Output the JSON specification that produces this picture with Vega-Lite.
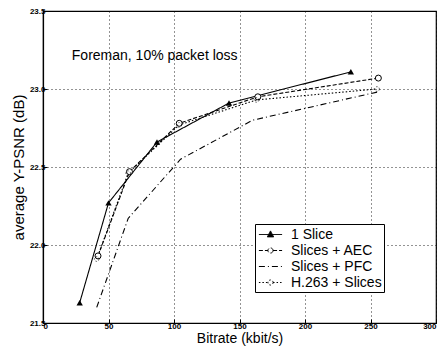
{
  "$schema": "https://vega.github.io/schema/vega-lite/v6.json",
  "width": 393,
  "height": 312,
  "autosize": {"type": "none"},
  "padding": {"left": 43, "top": 11, "right": 6, "bottom": 26},
  "background": "white",
  "config": {
    "view": {"stroke": "black", "strokeWidth": 1.2},
    "font": "Liberation Sans",
    "axis": {
      "gridColor": "black", "gridDash": [1, 3], "gridOpacity": 0.85, "gridWidth": 1,
      "domainColor": "black", "domainWidth": 1.2, "tickColor": "black",
      "tickSize": -4, "labelFontSize": 8, "labelFontWeight": "bold", "labelColor": "black",
      "titleFontSize": 14, "titleFontWeight": "normal", "titleColor": "black", "labelPadding": 2
    }
  },
  "data": {"values": [
    {"s": "1 Slice", "x": 28, "y": 21.63},
    {"s": "1 Slice", "x": 50, "y": 22.27},
    {"s": "1 Slice", "x": 87, "y": 22.66},
    {"s": "1 Slice", "x": 142, "y": 22.91},
    {"s": "1 Slice", "x": 235, "y": 23.11},
    {"s": "Slices + AEC", "x": 42, "y": 21.93},
    {"s": "Slices + AEC", "x": 66, "y": 22.47},
    {"s": "Slices + AEC", "x": 104, "y": 22.78},
    {"s": "Slices + AEC", "x": 164, "y": 22.95},
    {"s": "Slices + AEC", "x": 256, "y": 23.07},
    {"s": "Slices + PFC", "x": 41, "y": 21.6},
    {"s": "Slices + PFC", "x": 65, "y": 22.17},
    {"s": "Slices + PFC", "x": 105, "y": 22.55},
    {"s": "Slices + PFC", "x": 160, "y": 22.8},
    {"s": "Slices + PFC", "x": 255, "y": 22.98},
    {"s": "H.263 + Slices", "x": 41, "y": 21.91},
    {"s": "H.263 + Slices", "x": 65, "y": 22.46},
    {"s": "H.263 + Slices", "x": 104, "y": 22.77},
    {"s": "H.263 + Slices", "x": 163, "y": 22.93},
    {"s": "H.263 + Slices", "x": 255, "y": 23.0}
  ]},
  "encoding": {
    "x": {"field": "x", "type": "quantitative", "scale": {"domain": [0, 300], "nice": false},
      "axis": {"values": [0, 50, 100, 150, 200, 250, 300], "title": "Bitrate (kbit/s)", "titlePadding": 1, "labelPadding": 3}},
    "y": {"field": "y", "type": "quantitative", "scale": {"domain": [21.5, 23.5], "nice": false, "zero": false},
      "axis": {"values": [21.5, 22, 22.5, 23, 23.5], "title": "average Y-PSNR (dB)", "titlePadding": 3, "titleFontSize": 15}}
  },
  "layer": [
    {
      "mark": {"type": "line", "color": "black", "strokeWidth": 1.1},
      "encoding": {
        "strokeDash": {"field": "s", "type": "nominal",
          "scale": {"domain": ["1 Slice", "Slices + AEC", "Slices + PFC", "H.263 + Slices"],
            "range": [[1, 0], [4, 2], [6, 3, 1, 3], [1.5, 2]]},
          "legend": {
            "orient": "none", "legendX": 212, "legendY": 213, "title": null,
            "fillColor": "white", "strokeColor": "black", "padding": 2,
            "labelFontSize": 14, "labelColor": "black", "labelFont": "Liberation Sans",
            "symbolSize": 256, "symbolStrokeWidth": 1, "symbolStrokeColor": "black",
            "symbolOffset": 5, "rowPadding": 0, "labelOffset": 12,
            "encode": {"symbols": {"update": {
              "shape": {"signal": "datum.value === '1 Slice' ? 'M-1.45,0L1.45,0M0,-0.45L0.4,0.3L-0.4,0.3Z' : datum.value === 'Slices + PFC' ? 'M-1.45,0L1.45,0' : 'M-1.45,0L-0.32,0M0.32,0L1.45,0M0.32,0A0.32,0.32,0,1,1,-0.32,0A0.32,0.32,0,1,1,0.32,0'"},
              "fill": {"signal": "datum.value === '1 Slice' ? 'black' : 'transparent'"},
              "stroke": {"value": "black"}
            }}}
          }}
      }
    },
    {
      "transform": [{"filter": "datum.s === '1 Slice'"}],
      "mark": {"type": "point", "shape": "triangle-up", "filled": true, "color": "black", "size": 40, "opacity": 1}
    },
    {
      "transform": [{"filter": "datum.s === 'Slices + AEC'"}],
      "mark": {"type": "point", "shape": "circle", "fill": "white", "stroke": "black", "strokeWidth": 1, "size": 36, "opacity": 1}
    },
    {
      "transform": [{"filter": "datum.s === 'H.263 + Slices'"}],
      "mark": {"type": "point", "shape": "circle", "fill": "transparent", "stroke": "black", "strokeWidth": 0.8, "strokeDash": [1.5, 1.5], "size": 22, "opacity": 0.8}
    },
    {
      "data": {"values": [{"x": 22, "y": 23.21, "t": "Foreman, 10% packet loss"}]},
      "mark": {"type": "text", "align": "left", "baseline": "middle", "fontSize": 14, "font": "Liberation Sans", "color": "black"},
      "encoding": {"text": {"field": "t"}}
    }
  ]
}
